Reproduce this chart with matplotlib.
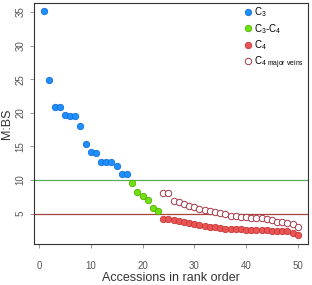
import matplotlib
matplotlib.use('Agg')
import matplotlib.pyplot as plt
import numpy as np

plt.rcParams['font.family'] = ['Liberation Sans', 'DejaVu Sans']
plt.rcParams['mathtext.default'] = 'regular'

# M:BS ratio per accession, ranked
c3_rank = np.arange(1, 18)
c3_vals = [35.1, 24.9, 20.9, 20.9, 19.7, 19.6, 19.6, 18.0, 15.4, 14.2, 14.0,
           12.7, 12.7, 12.7, 12.1, 10.9, 10.9]
c3c4_rank = np.arange(18, 24)
c3c4_vals = [9.5, 8.3, 7.7, 7.0, 5.9, 5.35]
c4_rank = np.arange(24, 51)
c4_vals = [4.27, 4.16, 4.07, 3.92, 3.7, 3.57, 3.42, 3.33, 3.18, 3.07, 3.03,
           2.83, 2.78, 2.73, 2.73, 2.68, 2.63, 2.58, 2.58, 2.53, 2.53, 2.48,
           2.48, 2.43, 2.38, 2.14, 1.78]
c4_major_vals = [8.1, 8.1, 6.9, 6.7, 6.45, 6.2, 5.95, 5.75, 5.6, 5.35, 5.2,
                 5.1, 5.0, 4.7, 4.6, 4.5, 4.45, 4.4, 4.35, 4.3, 4.25, 4.1,
                 3.8, 3.7, 3.65, 3.5, 3.0]
thresholds = [10, 5]

fig = plt.figure(figsize=(3.12, 2.85), dpi=100)
ax = fig.add_axes([0.109, 0.144, 0.878, 0.847])

ms = 4.6
ax.axhline(thresholds[0], color='#5aac5a', lw=0.9, zorder=1)
ax.axhline(thresholds[1], color='#a4463f', lw=0.9, zorder=1)
ax.plot(c3_rank, c3_vals, 'o', ms=ms, mfc='#1e8fff', mec='#1470d0', mew=0.6, label='C$_3$')
ax.plot(c3c4_rank, c3c4_vals, 'o', ms=ms, mfc='#70e010', mec='#50b000', mew=0.6, label='C$_3$-C$_4$')
ax.plot(c4_rank, c4_vals, 'o', ms=ms, mfc='#ec5454', mec='#c03838', mew=0.6, label='C$_4$')
ax.plot(c4_rank, c4_major_vals, 'o', ms=ms, mfc='white', mec='#a83848', mew=0.7,
        label='C$_{4\\ major\\ veins}$')

ax.set_xlim(-0.96, 51.96)
ax.set_ylim(0.5, 36.4)
ax.set_xticks([0, 10, 20, 30, 40, 50])
ax.set_yticks([5, 10, 15, 20, 25, 30, 35])
ax.tick_params(direction='out', length=3, width=0.6, colors='#888888',
               labelsize=7, labelcolor='#555555')
ax.tick_params(axis='x', pad=9)
ax.tick_params(axis='y', pad=3)
for lab in ax.get_yticklabels():
    lab.set_rotation(90)
    lab.set_va('center')
for sp in ax.spines.values():
    sp.set_color('#333333')
    sp.set_linewidth(0.8)

ax.set_xlabel('Accessions in rank order', fontsize=9, color='#333333', labelpad=1)
ax.set_ylabel('M:BS', fontsize=9, color='#333333', labelpad=2)

ax.legend(loc='upper left', bbox_to_anchor=(0.76, 1.0), frameon=False, fontsize=7,
          handlelength=0.6, handletextpad=0.3, borderpad=0.1, labelspacing=0.25,
          borderaxespad=0.2)

fig.savefig('out.png', dpi=100)
